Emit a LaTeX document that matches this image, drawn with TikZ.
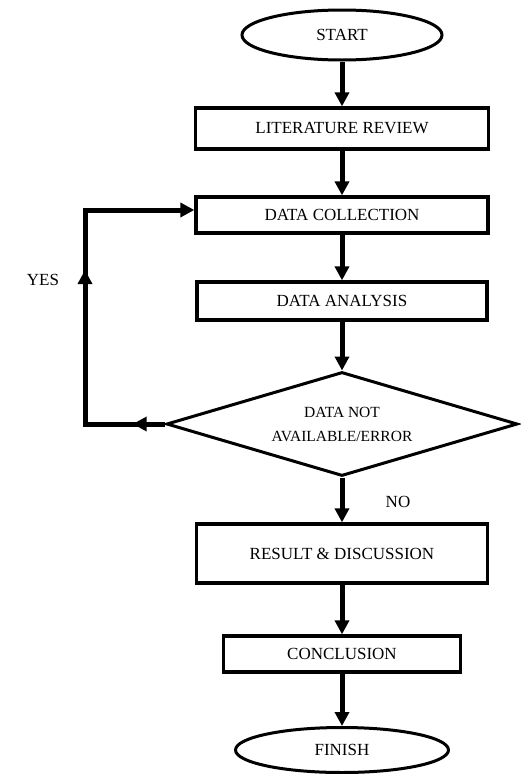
\documentclass[tikz,border=0pt]{standalone}
\usepackage{fontspec}
\setmainfont{Liberation Serif}
\usetikzlibrary{shapes.geometric,arrows.meta,decorations.markings}

\begin{document}
\begin{tikzpicture}[x=1pt, y=-1pt, font=\fontsize{17}{19}\selectfont,
    term/.style={draw, ellipse, line width=3pt, inner sep=0pt},
    stage/.style={draw, rectangle, line width=3.3pt, inner sep=0pt},
    check/.style={draw, diamond, aspect=3.4, line width=3pt, inner sep=0pt, align=center,
        font=\fontsize{15.5}{24}\selectfont},
    flow/.style={line width=5pt, -{Triangle[width=14pt,length=14pt]}},
    loopline/.style={line width=5pt, -{Triangle[width=14pt,length=14pt]},
        postaction={decorate},
        decoration={markings,
            mark=at position 0.08 with {\arrow{Triangle[width=14pt,length=14pt]}},
            mark=at position 0.58 with {\arrow{Triangle[width=14pt,length=14pt]}}}}]
    \useasboundingbox (0,0) rectangle (520,774);

    % Start
    \node[term, minimum width=200pt, minimum height=50pt] (start) at (342,35) {START};

    % Main steps
    \node[stage, minimum width=293pt, minimum height=41pt] (lit) at (342,128.5) {LITERATURE REVIEW};
    \node[stage, minimum width=292pt, minimum height=36pt] (collect) at (342,215) {DATA COLLECTION};
    \node[stage, minimum width=290pt, minimum height=38pt] (analysis) at (342,301) {DATA ANALYSIS};

    % Decision
    \node[check, minimum width=351pt, minimum height=104pt] (dataok) at (342,424)
        {DATA NOT\\AVAILABLE/ERROR};

    % Results
    \node[stage, minimum width=291pt, minimum height=59pt] (result) at (342,553.5) {RESULT \& DISCUSSION};
    \node[stage, minimum width=237pt, minimum height=36pt] (concl) at (342,654) {CONCLUSION};

    % Finish
    \node[term, minimum width=213pt, minimum height=45pt] (finish) at (342,750) {FINISH};

    % Arrows down the main line
    \draw[flow] (start) -- (lit);
    \draw[flow] (lit) -- (collect);
    \draw[flow] (collect) -- (analysis);
    \draw[flow] (analysis) -- (dataok);
    \draw[flow] (dataok) -- (result);
    \draw[flow] (result) -- (concl);
    \draw[flow] (concl) -- (finish);

    % Loop back to data collection
    \coordinate (lowcorner) at (85,424);
    \coordinate (upcorner) at (85,210);
    \draw[loopline] (dataok.west) -- (lowcorner) -- (upcorner) -- (collect.west |- upcorner);

    % Labels
    \node (yes) at (43,280) {YES};
    \node (no) at (398,502) {NO};
\end{tikzpicture}
\end{document}
